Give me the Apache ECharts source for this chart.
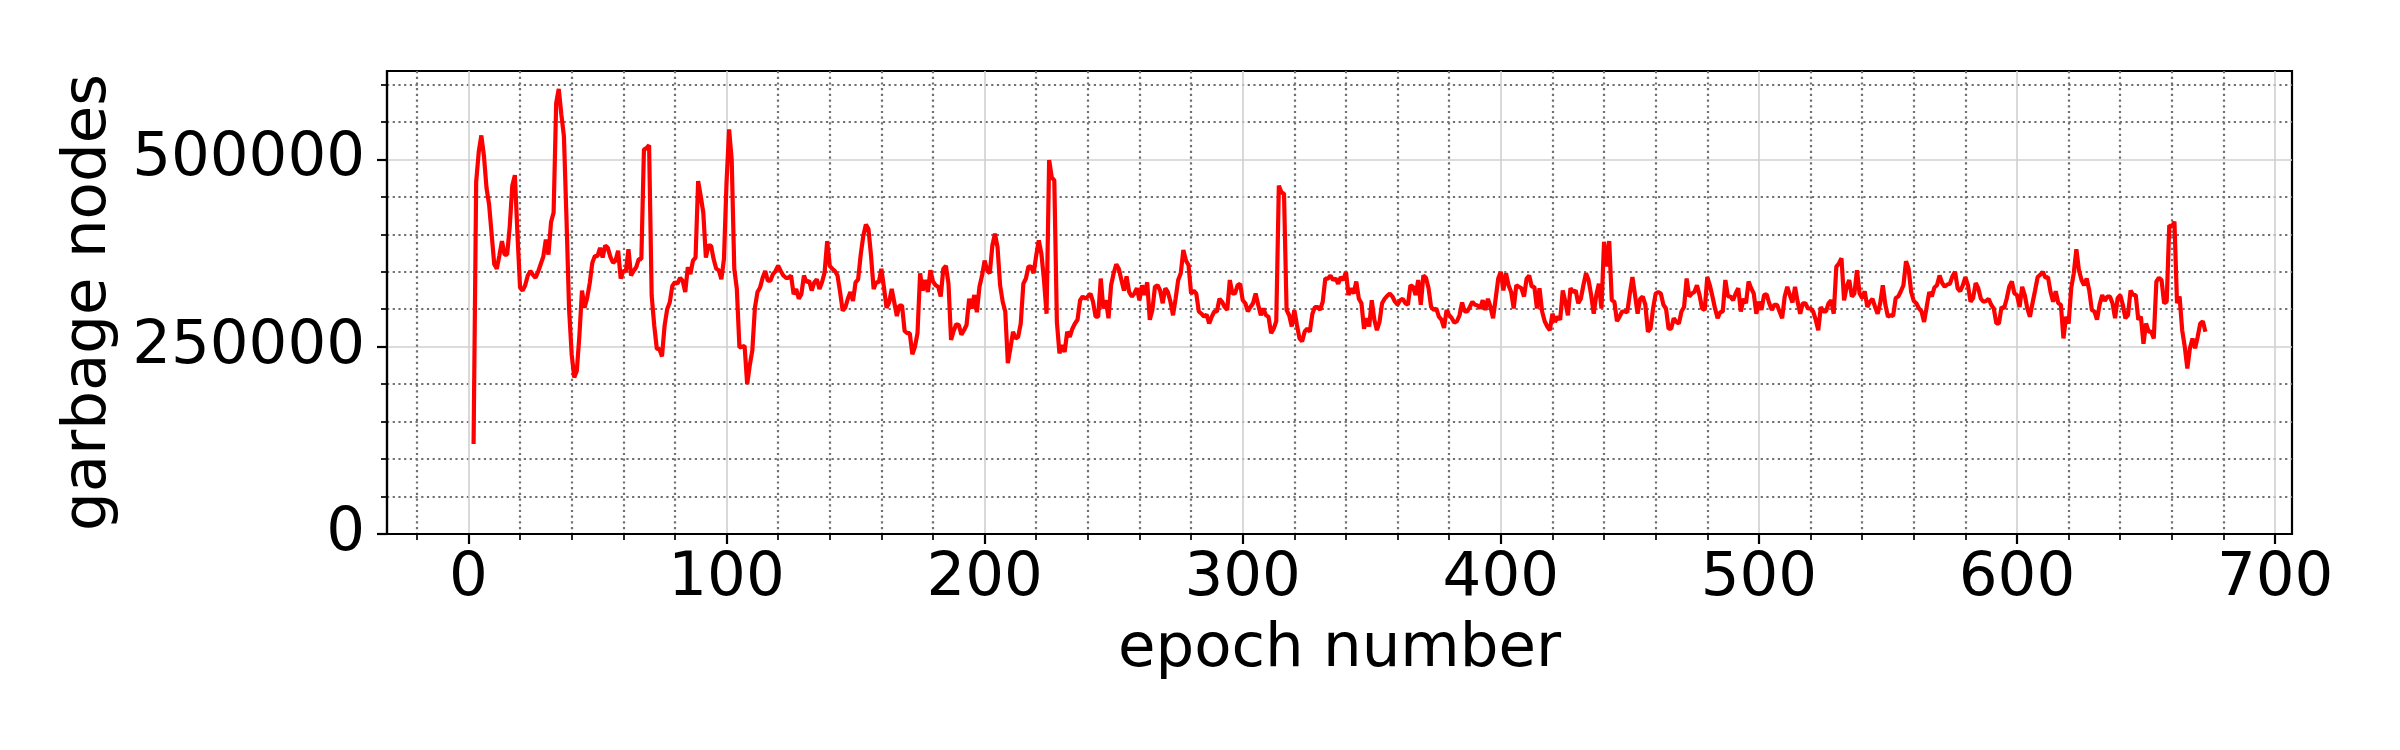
<!DOCTYPE html>
<html>
<head>
<meta charset="utf-8">
<script src="https://cdn.jsdelivr.net/npm/echarts@6/dist/echarts.min.js"></script>
<style>
  html, body { margin: 0; padding: 0; background: #fff; }
  #chart { width: 2400px; height: 750px; }
</style>
</head>
<body>
<div id="chart"></div>
<script>
// first epoch plotted, the rest follow one per step
var firstEpoch = 2;

// garbage nodes per epoch
var garbageNodes = [
  120000, 470000, 510000, 532000, 505000, 462000, 440000, 400000, 360000,
  354000, 372000, 391000, 373000, 373000, 410000, 465000, 479000, 400000, 329000,
  325000, 332000, 345000, 351000, 346000, 342000, 350000, 360000, 370000, 393000,
  373000, 416000, 429000, 575000, 594000, 560000, 531000, 420000, 300000, 240000,
  209000, 218000, 265000, 325000, 302000, 315000, 335000, 362000, 371000, 371000,
  382000, 369000, 385000, 382000, 370000, 362000, 365000, 378000, 341000, 351000,
  351000, 380000, 345000, 351000, 356000, 367000, 367000, 513000, 515000, 519000,
  318000, 278000, 247000, 247000, 237000, 278000, 300000, 309000, 331000, 336000,
  334000, 342000, 338000, 323000, 356000, 347000, 365000, 369000, 471000, 451000,
  429000, 369000, 385000, 385000, 367000, 354000, 352000, 340000, 367000, 469000,
  540000, 500000, 354000, 327000, 249000, 250000, 251000, 200000, 225000, 245000,
  302000, 323000, 329000, 342000, 351000, 338000, 338000, 347000, 351000, 358000,
  351000, 345000, 342000, 342000, 345000, 320000, 327000, 314000, 320000, 345000,
  336000, 338000, 325000, 336000, 340000, 327000, 336000, 349000, 391000, 358000,
  354000, 351000, 345000, 323000, 298000, 302000, 314000, 323000, 311000, 336000,
  340000, 373000, 398000, 413000, 407000, 371000, 327000, 336000, 336000, 354000,
  329000, 302000, 309000, 327000, 309000, 291000, 305000, 305000, 271000, 268000,
  268000, 240000, 250000, 268000, 348000, 325000, 339000, 323000, 352000, 337000,
  332000, 330000, 317000, 354000, 358000, 334000, 259000, 271000, 280000, 279000,
  266000, 272000, 279000, 314000, 301000, 319000, 296000, 330000, 345000, 365000,
  352000, 348000, 385000, 401000, 383000, 332000, 310000, 297000, 228000, 248000,
  270000, 261000, 263000, 281000, 334000, 341000, 357000, 357000, 348000, 372000,
  392000, 374000, 339000, 294000, 499000, 476000, 472000, 283000, 241000, 252000,
  243000, 270000, 263000, 274000, 281000, 286000, 312000, 317000, 314000, 317000,
  321000, 310000, 290000, 290000, 341000, 301000, 312000, 288000, 332000, 348000,
  360000, 354000, 339000, 325000, 344000, 323000, 317000, 321000, 328000, 312000,
  332000, 319000, 336000, 286000, 299000, 330000, 332000, 325000, 308000, 328000,
  323000, 310000, 292000, 314000, 339000, 348000, 379000, 365000, 359000, 321000,
  325000, 321000, 297000, 294000, 290000, 293000, 281000, 290000, 297000, 297000,
  314000, 310000, 303000, 299000, 339000, 321000, 321000, 332000, 334000, 312000,
  308000, 297000, 303000, 308000, 321000, 306000, 292000, 301000, 292000, 290000,
  268000, 274000, 284000, 465000, 456000, 454000, 299000, 292000, 277000, 299000,
  279000, 261000, 257000, 270000, 274000, 270000, 294000, 303000, 303000, 299000,
  310000, 341000, 341000, 345000, 339000, 341000, 334000, 343000, 339000, 350000,
  319000, 328000, 321000, 337000, 314000, 308000, 274000, 288000, 277000, 312000,
  286000, 272000, 283000, 308000, 314000, 318000, 321000, 317000, 310000, 306000,
  312000, 314000, 308000, 306000, 332000, 330000, 319000, 339000, 306000, 345000,
  342000, 328000, 303000, 299000, 301000, 290000, 286000, 275000, 299000, 292000,
  288000, 282000, 284000, 292000, 309000, 297000, 297000, 303000, 310000, 306000,
  305000, 301000, 312000, 299000, 314000, 303000, 288000, 314000, 341000, 350000,
  325000, 348000, 332000, 323000, 301000, 332000, 330000, 328000, 317000, 341000,
  345000, 330000, 330000, 301000, 328000, 297000, 284000, 277000, 272000, 294000,
  283000, 290000, 286000, 325000, 310000, 292000, 328000, 323000, 325000, 308000,
  314000, 332000, 348000, 339000, 319000, 294000, 319000, 334000, 301000, 390000,
  357000, 391000, 312000, 310000, 284000, 290000, 297000, 297000, 296000, 321000,
  343000, 319000, 294000, 314000, 317000, 306000, 270000, 274000, 301000, 321000,
  323000, 321000, 306000, 301000, 274000, 274000, 288000, 283000, 281000, 297000,
  303000, 341000, 317000, 321000, 323000, 332000, 319000, 301000, 299000, 343000,
  332000, 317000, 301000, 288000, 296000, 297000, 339000, 317000, 317000, 312000,
  321000, 328000, 297000, 314000, 308000, 337000, 328000, 321000, 294000, 310000,
  299000, 319000, 320000, 308000, 299000, 306000, 306000, 297000, 288000, 317000,
  330000, 319000, 309000, 330000, 310000, 294000, 308000, 308000, 301000, 301000,
  297000, 286000, 272000, 303000, 297000, 297000, 308000, 312000, 294000, 357000,
  361000, 368000, 312000, 330000, 339000, 317000, 321000, 352000, 321000, 315000,
  324000, 303000, 310000, 314000, 303000, 294000, 308000, 332000, 306000, 290000,
  292000, 291000, 315000, 317000, 324000, 332000, 364000, 354000, 323000, 311000,
  308000, 301000, 297000, 283000, 303000, 323000, 317000, 329000, 332000, 345000,
  335000, 330000, 333000, 334000, 344000, 350000, 328000, 324000, 332000, 343000,
  332000, 310000, 315000, 335000, 328000, 314000, 310000, 311000, 314000, 306000,
  301000, 281000, 281000, 303000, 301000, 314000, 330000, 337000, 321000, 319000,
  303000, 330000, 319000, 301000, 290000, 308000, 325000, 343000, 346000, 350000,
  342000, 343000, 323000, 310000, 324000, 308000, 306000, 261000, 290000, 281000,
  328000, 348000, 380000, 352000, 339000, 332000, 341000, 325000, 299000, 297000,
  286000, 306000, 319000, 311000, 317000, 317000, 308000, 288000, 315000, 319000,
  306000, 288000, 292000, 325000, 319000, 319000, 286000, 290000, 254000, 281000,
  270000, 270000, 261000, 337000, 342000, 339000, 308000, 310000, 412000, 410000,
  417000, 308000, 317000, 272000, 250000, 221000, 248000, 261000, 248000, 263000,
  281000, 284000, 270000
];

// tick positions
var xMajorTicks = [0, 100, 200, 300, 400, 500, 600, 700];
var xMinorTicks = [-20, 20, 40, 60, 80, 120, 140, 160, 180, 220, 240, 260, 280,
  320, 340, 360, 380, 420, 440, 460, 480, 520, 540, 560, 580, 620, 640, 660, 680];
var yMajorTicks = [0, 250000, 500000];
var yMinorTicks = [50000, 100000, 150000, 200000, 300000, 350000, 400000, 450000, 550000, 600000];

var font = 'DejaVu Sans';

var chart = echarts.init(document.getElementById('chart'));

var lineData = garbageNodes.map(function (v, i) {
    return [firstEpoch + i, v];
});

var xRange = { min: -31.55, max: 706.55 };
var yRange = { min: 0, max: 618000 };

// plain numbers, no thousands separator
function plain(v) { return String(v); }

var option = {
    animation: false,
    backgroundColor: '#ffffff',
    grid: {
        left: 387, right: 108, top: 71, bottom: 216,
        show: true,
        borderColor: '#000',
        borderWidth: 2.2
    },
    xAxis: [{
        type: 'value',
        min: xRange.min, max: xRange.max,
        position: 'bottom',
        axisLine: { show: true, onZero: false, lineStyle: { color: '#000', width: 2.2 } },
        axisTick: { show: true, customValues: xMajorTicks, length: 10, lineStyle: { color: '#000', width: 2.2 } },
        axisLabel: { customValues: xMajorTicks, formatter: plain, fontSize: 61, fontFamily: font, color: '#000', margin: 15 },
        splitLine: { show: true, lineStyle: { color: '#d0d0d0', width: 1.6 } },
        name: 'epoch number',
        nameLocation: 'middle',
        nameGap: 86,
        nameTextStyle: { fontSize: 61, fontFamily: font, color: '#000' }
    }, {
        // minor ticks and dotted grid
        type: 'value',
        min: xRange.min, max: xRange.max,
        position: 'bottom',
        axisLine: { show: false, onZero: false },
        axisTick: { show: true, customValues: xMinorTicks, length: 6, lineStyle: { color: '#000', width: 1.7 } },
        axisLabel: { show: false },
        splitLine: { show: true, lineStyle: { color: '#707070', width: 2.2, type: [2.2, 3.5] } }
    }],
    yAxis: [{
        type: 'value',
        min: yRange.min, max: yRange.max,
        position: 'left',
        axisLine: { show: true, onZero: false, lineStyle: { color: '#000', width: 2.2 } },
        axisTick: { show: true, customValues: yMajorTicks, length: 10, lineStyle: { color: '#000', width: 2.2 } },
        axisLabel: { customValues: yMajorTicks, formatter: plain, fontSize: 61, fontFamily: font, color: '#000', margin: 22 },
        splitLine: { show: true, lineStyle: { color: '#d0d0d0', width: 1.6 } },
        name: 'garbage nodes',
        nameLocation: 'middle',
        nameGap: 267,
        nameRotate: 90,
        nameTextStyle: { fontSize: 61, fontFamily: font, color: '#000' }
    }, {
        type: 'value',
        min: yRange.min, max: yRange.max,
        position: 'left',
        axisLine: { show: false, onZero: false },
        axisTick: { show: true, customValues: yMinorTicks, length: 6, lineStyle: { color: '#000', width: 1.7 } },
        axisLabel: { show: false },
        splitLine: { show: true, lineStyle: { color: '#707070', width: 2.2, type: [2.2, 3.5] } }
    }],
    series: [{
        type: 'line',
        xAxisIndex: 0,
        yAxisIndex: 0,
        data: lineData,
        showSymbol: false,
        symbol: 'none',
        lineStyle: { color: '#ff0000', width: 4.2 },
        z: 5
    }]
};

chart.setOption(option);
</script>
</body>
</html>
